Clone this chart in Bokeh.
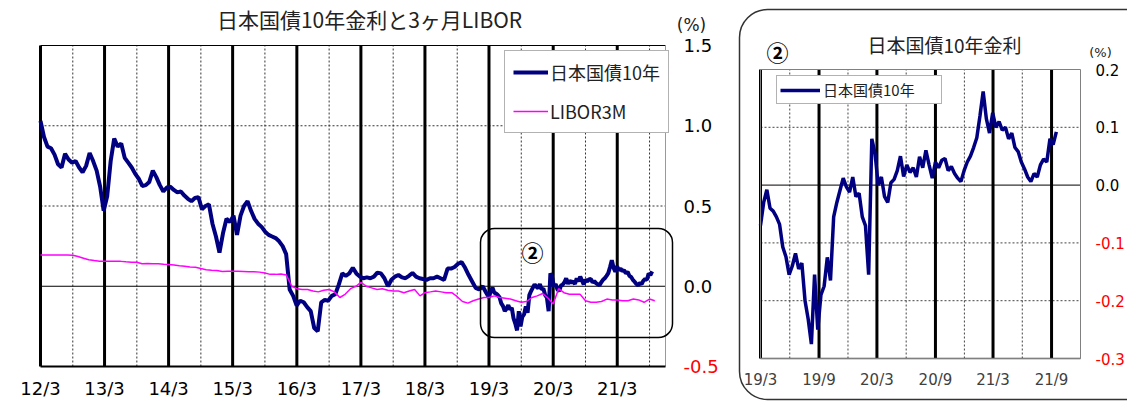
import pandas as pd
from bokeh.plotting import figure
from bokeh.models import (FixedTicker, NumeralTickFormatter, Label, BoxAnnotation, Range1d,
                          DatetimeAxis, LinearAxis, Legend, LegendItem)
from bokeh.embed import file_html
from bokeh.resources import INLINE

# ---------------- data ----------------
# JGB 10y yield, every 20 days from 2012-03-01 to 2019-02
jgb_2012_2019 = [
    1.03, 0.93, 0.87, 0.86, 0.82, 0.76, 0.74, 0.825, 0.79, 0.77,
    0.78, 0.74, 0.71, 0.75, 0.83, 0.78, 0.72, 0.62, 0.47, 0.56,
    0.78, 0.92, 0.87, 0.89, 0.80, 0.77, 0.74, 0.70, 0.67, 0.625,
    0.63, 0.65, 0.72, 0.68, 0.63, 0.59, 0.615, 0.62, 0.60, 0.585,
    0.59, 0.565, 0.545, 0.53, 0.55, 0.555, 0.48, 0.50, 0.51, 0.39,
    0.31, 0.21, 0.33, 0.42, 0.40, 0.44, 0.32, 0.44, 0.50, 0.53,
    0.47, 0.42, 0.39, 0.37, 0.34, 0.32, 0.31, 0.30, 0.28, 0.25,
    0.20, -0.02, -0.06, -0.12, -0.09, -0.10, -0.13, -0.155, -0.26, -0.28,
    -0.10, -0.085, -0.09, -0.06, -0.05, 0.01, 0.08, 0.065, 0.08, 0.115,
    0.08, 0.06, 0.05, 0.055, 0.05, 0.06, 0.085, 0.08, 0.05, 0.0,
    0.04, 0.06, 0.07, 0.055, 0.05, 0.065, 0.083, 0.06, 0.05, 0.045,
    0.04, 0.05, 0.05, 0.06, 0.05, 0.04, 0.11, 0.11, 0.12, 0.14,
    0.15, 0.115, 0.07, 0.03, -0.01, -0.02, 0.0, -0.04]
# JGB 10y yield, every 10 days from 2019-03-01 to 2021-09
jgb_2019_2021 = [
    -0.07, -0.03, -0.008, -0.04, -0.045, -0.055, -0.068, -0.107, -0.124, -0.155,
    -0.14, -0.118, -0.145, -0.135, -0.2, -0.232, -0.275, -0.155, -0.25, -0.19,
    -0.175, -0.125, -0.165, -0.055, -0.03, -0.009, 0.012, -0.003, -0.012, 0.014,
    -0.02, -0.014, -0.055, -0.07, -0.155, 0.08, 0.055, 0.0, 0.014, -0.02,
    -0.03, 0.004, 0.01, 0.025, 0.05, 0.015, 0.035, 0.022, 0.03, 0.014,
    0.049, 0.03, 0.06, 0.035, 0.012, 0.04, 0.03, 0.043, 0.046, 0.025,
    0.032, 0.02, 0.012, 0.006, 0.025, 0.04, 0.05, 0.065, 0.082, 0.12,
    0.162, 0.115, 0.09, 0.125, 0.1, 0.11, 0.095, 0.1, 0.08, 0.09,
    0.065, 0.058, 0.04, 0.028, 0.014, 0.006, 0.02, 0.014, 0.035, 0.045,
    0.04, 0.08, 0.07, 0.092]
# LIBOR 3M (JPY), monthly from 2012-03
libor_3m = [
    0.194, 0.194, 0.194, 0.194, 0.194, 0.194, 0.193, 0.185, 0.175, 0.165,
    0.16, 0.156, 0.156, 0.155, 0.155, 0.155, 0.152, 0.15, 0.15, 0.14,
    0.142, 0.14, 0.14, 0.137, 0.135, 0.132, 0.128, 0.125, 0.12, 0.118,
    0.11, 0.103, 0.10, 0.098, 0.092, 0.094, 0.094, 0.093, 0.092, 0.091,
    0.09, 0.088, 0.082, 0.074, 0.074, 0.077, 0.07, 0.0, -0.015, -0.02,
    -0.02, -0.03, -0.035, -0.025, -0.02, -0.035, -0.07, -0.05, -0.015, 0.0,
    0.025, 0.0, -0.01, -0.02, -0.015, -0.025, -0.03, -0.03, -0.04, -0.03,
    -0.02, -0.06, -0.04, -0.035, -0.03, -0.035, -0.04, -0.04, -0.065, -0.095,
    -0.105, -0.09, -0.08, -0.07, -0.07, -0.06, -0.07, -0.075, -0.08, -0.09,
    -0.10, -0.095, -0.07, -0.06, -0.045, -0.075, -0.11, -0.015, -0.04, -0.05,
    -0.05, -0.05, -0.09, -0.10, -0.10, -0.095, -0.08, -0.085, -0.085, -0.09,
    -0.09, -0.08, -0.085, -0.10, -0.08, -0.09]

left_xtick_dates = ["2012-03-01", "2013-03-01", "2014-03-01", "2015-03-01", "2016-03-01",
                    "2017-03-01", "2018-03-01", "2019-03-01", "2020-03-01", "2021-03-01"]
left_xtick_labels = ["12/3", "13/3", "14/3", "15/3", "16/3", "17/3", "18/3", "19/3", "20/3", "21/3"]
left_minor_dates = ["2012-09-01", "2013-09-01", "2014-09-01", "2015-09-01", "2016-09-01",
                    "2017-09-01", "2018-09-01", "2019-09-01", "2020-09-01", "2021-09-01"]
left_yticks = [-0.5, 0.0, 0.5, 1.0, 1.5]
left_ygrid_dashed = [0.5, 1.0]

right_xtick_dates = ["2019-03-01", "2019-09-01", "2020-03-01", "2020-09-01", "2021-03-01", "2021-09-01"]
right_xtick_labels = ["19/3", "19/9", "20/3", "20/9", "21/3", "21/9"]
right_minor_dates = ["2019-06-01", "2019-12-01", "2020-06-01", "2020-12-01", "2021-06-01"]
right_yticks = [-0.3, -0.2, -0.1, 0.0, 0.1, 0.2]
right_ygrid_dashed = [-0.2, -0.1, 0.1]

NAVY = "#000080"
MAGENTA = "#FF00FF"
TICK_FONT = "DejaVu Sans"
JP_FONT = "Noto Sans CJK JP"
W, H = 1127, 402


def ms(s):
    return pd.Timestamp(s).value / 1e6


dates_a = pd.date_range("2012-03-01", periods=len(jgb_2012_2019), freq="20D")
dates_b = pd.date_range("2019-03-01", periods=len(jgb_2019_2021), freq="10D")
dates_libor = pd.date_range("2012-03-01", periods=len(libor_3m), freq="MS")
dates_left = list(dates_a) + list(dates_b)
jgb_left = jgb_2012_2019 + jgb_2019_2021

# ---- page-pixel layout of the two plot areas ----
LX0, LX1, LY0, LY1 = ms("2012-03-01"), ms("2021-12-01"), -0.5, 1.5
LF = dict(l=40, r=665, t=45, b=366)
RX0, RX1, RY0, RY1 = ms("2019-03-01"), ms("2021-12-01"), -0.3, 0.2
RF = dict(l=760, r=1080, t=69, b=358)


def lxp(px):
    return LX0 + (px - LF["l"]) / (LF["r"] - LF["l"]) * (LX1 - LX0)


def lyp(py):
    return LY0 + (LF["b"] - py) / (LF["b"] - LF["t"]) * (LY1 - LY0)


def rxp(px):
    return RX0 + (px - RF["l"]) / (RF["r"] - RF["l"]) * (RX1 - RX0)


def ryp(py):
    return RY0 + (RF["b"] - py) / (RF["b"] - RF["t"]) * (RY1 - RY0)


p = figure(width=W, height=H, x_range=Range1d(lxp(0), lxp(W)), y_range=Range1d(lyp(H), lyp(0)),
           x_axis_type=None, y_axis_type=None, output_backend="svg", toolbar_location=None,
           min_border=0, title_location=None)
p.extra_x_ranges = {"rx": Range1d(rxp(0), rxp(W))}
p.extra_y_ranges = {"ry": Range1d(ryp(H), ryp(0))}
p.outline_line_color = None
p.background_fill_color = "white"
p.border_fill_color = "white"
R = dict(x_range_name="rx", y_range_name="ry")

# ================= left chart =================
year_ms = [ms(d) for d in left_xtick_dates]
sep_ms = [ms(d) for d in left_minor_dates]
p.segment(x0=sep_ms, y0=[LY0] * len(sep_ms), x1=sep_ms, y1=[LY1] * len(sep_ms),
          line_color="#333333", line_width=1, line_dash="2 2")
p.segment(x0=[LX0] * 2, y0=left_ygrid_dashed, x1=[LX1] * 2, y1=left_ygrid_dashed,
          line_color="#333333", line_width=1, line_dash="2 2")
p.segment(x0=[LX0], y0=[0.0], x1=[LX1], y1=[0.0], line_color="black", line_width=1)
p.segment(x0=[LX0], y0=[LY1], x1=[LX1], y1=[LY1], line_color="black", line_width=1)
p.segment(x0=[LX1], y0=[LY0], x1=[LX1], y1=[LY1], line_color="#999999", line_width=1)
p.segment(x0=year_ms, y0=[LY0] * len(year_ms), x1=year_ms, y1=[LY1] * len(year_ms),
          line_color="black", line_width=3)

r_jgb = p.line(dates_left, jgb_left, line_color=NAVY, line_width=4)
r_libor = p.line(dates_libor, libor_3m, line_color=MAGENTA, line_width=1.5)

ax = DatetimeAxis(ticker=FixedTicker(ticks=year_ms), fixed_location=LY0, bounds=(LX0, LX1),
                  major_label_overrides={int(t): lab for t, lab in zip(year_ms, left_xtick_labels)})
ax.axis_line_color = "black"
ax.axis_line_width = 2
ax.major_tick_line_color = None
ax.minor_tick_line_color = None
ax.major_tick_out = 0
ax.major_label_standoff = 11
ax.major_label_text_font = TICK_FONT
ax.major_label_text_font_size = "18px"
ax.major_label_text_color = "black"
p.add_layout(ax, "below")

for ticks, color in (([v for v in left_yticks if v >= 0], "black"), ([v for v in left_yticks if v < 0], "red")):
    ay = LinearAxis(ticker=FixedTicker(ticks=ticks), fixed_location=LX1, bounds=(LY0, LY1),
                    formatter=NumeralTickFormatter(format="0.0"))
    ay.axis_line_color = None
    ay.major_tick_line_color = None
    ay.minor_tick_line_color = None
    ay.major_tick_out = 0
    ay.major_label_standoff = 18
    ay.major_label_text_font = TICK_FONT
    ay.major_label_text_font_size = "18px"
    ay.major_label_text_color = color
    p.add_layout(ay, "right")

lg = Legend(items=[LegendItem(label="日本国債10年", renderers=[r_jgb]),
                   LegendItem(label="LIBOR3M", renderers=[r_libor])],
            location=(504, H - 133))
lg.margin = 0
lg.padding = 8
lg.spacing = 13
lg.label_text_font = JP_FONT
lg.label_text_font_size = "18px"
lg.label_text_color = "#222222"
lg.glyph_width = 35
lg.glyph_height = 20
lg.label_height = 22
lg.label_standoff = 2
lg.border_line_color = "#666666"
lg.border_line_width = 1
lg.background_fill_alpha = 1
p.add_layout(lg)

p.add_layout(Label(x=lxp(369), y=lyp(18), text="日本国債10年金利と3ヶ月LIBOR", text_align="center",
                   text_baseline="middle", text_font=JP_FONT, text_font_size="21px", text_color="#222222"))
p.add_layout(Label(x=lxp(691), y=lyp(24), text="(%)", text_align="center", text_baseline="middle",
                   text_font=TICK_FONT, text_font_size="17px", text_color="#222222"))
p.add_layout(Label(x=lxp(532), y=lyp(250), text="②", text_align="center", text_baseline="middle",
                   text_font=JP_FONT, text_font_size="22px", text_font_style="bold", text_color="black"))
p.add_layout(BoxAnnotation(left=lxp(480), right=lxp(672), top=lyp(228), bottom=lyp(337),
                           fill_color=None, fill_alpha=0, line_color="black", line_alpha=1,
                           line_width=1.5, border_radius=14))

# ================= right chart =================
r_main = [ms(d) for d in right_xtick_dates]
r_minor = [ms(d) for d in right_minor_dates]
p.segment(x0=r_minor, y0=[RY0] * len(r_minor), x1=r_minor, y1=[RY1] * len(r_minor),
          line_color="#444444", line_width=1, line_dash="2 2", **R)
p.segment(x0=[RX0] * 3, y0=right_ygrid_dashed, x1=[RX1] * 3, y1=right_ygrid_dashed,
          line_color="#444444", line_width=1, line_dash="2 2", **R)
p.segment(x0=[RX0], y0=[0.0], x1=[RX1], y1=[0.0], line_color="black", line_width=1, **R)
p.add_layout(BoxAnnotation(left=RX0, right=RX1, bottom=RY0, top=RY1, fill_color=None, fill_alpha=0,
                           line_color="#808080", line_alpha=1, line_width=1, **R))
p.segment(x0=r_main, y0=[RY0] * len(r_main), x1=r_main, y1=[RY1] * len(r_main),
          line_color="black", line_width=3, **R)

r_jgb2 = p.line(list(dates_b), jgb_2019_2021, line_color=NAVY, line_width=3.5, **R)

bx = DatetimeAxis(ticker=FixedTicker(ticks=r_main), fixed_location=RY0, bounds=(RX0, RX1),
                  major_label_overrides={int(t): lab for t, lab in zip(r_main, right_xtick_labels)}, **R)
bx.axis_line_color = "#555555"
bx.axis_line_width = 1.5
bx.major_tick_line_color = None
bx.minor_tick_line_color = None
bx.major_tick_out = 0
bx.major_label_standoff = 12
bx.major_label_text_font = TICK_FONT
bx.major_label_text_font_size = "15px"
bx.major_label_text_color = "#404040"
p.add_layout(bx, "below")

for ticks, color in (([v for v in right_yticks if v >= 0], "black"), ([v for v in right_yticks if v < 0], "red")):
    by = LinearAxis(ticker=FixedTicker(ticks=ticks), fixed_location=RX1, bounds=(RY0, RY1),
                    formatter=NumeralTickFormatter(format="0.0"), **R)
    by.axis_line_color = None
    by.major_tick_line_color = None
    by.minor_tick_line_color = None
    by.major_tick_out = 0
    by.major_label_standoff = 15
    by.major_label_text_font = TICK_FONT
    by.major_label_text_font_size = "15px"
    by.major_label_text_color = color
    p.add_layout(by, "right")

lg2 = Legend(items=[LegendItem(label="日本国債10年", renderers=[r_jgb2])], location=(776, H - 104))
lg2.margin = 0
lg2.padding = 3
lg2.label_text_font = JP_FONT
lg2.label_text_font_size = "15px"
lg2.label_text_color = "#222222"
lg2.glyph_width = 40
lg2.glyph_height = 18
lg2.label_height = 20
lg2.label_width = 115
lg2.label_standoff = 3
lg2.border_line_color = "#666666"
lg2.border_line_width = 1
lg2.background_fill_alpha = 1
p.add_layout(lg2)

p.add_layout(Label(x=rxp(944), y=ryp(44), text="日本国債10年金利", text_align="center",
                   text_baseline="middle", text_font=JP_FONT, text_font_size="19px",
                   text_color="#222222", **R))
p.add_layout(Label(x=rxp(1100), y=ryp(52), text="(%)", text_align="center", text_baseline="middle",
                   text_font=TICK_FONT, text_font_size="13px", text_color="#222222", **R))
p.add_layout(Label(x=rxp(777), y=ryp(50), text="②", text_align="center", text_baseline="middle",
                   text_font=JP_FONT, text_font_size="22px", text_font_style="bold",
                   text_color="black", **R))
p.add_layout(BoxAnnotation(left=rxp(739), right=rxp(1170), top=ryp(9), bottom=ryp(399),
                           fill_color=None, fill_alpha=0, line_color="#333333", line_alpha=1,
                           line_width=1.5, border_radius=28, **R))

with open("out.html", "w", encoding="utf-8") as f:
    f.write(file_html(p, INLINE))
